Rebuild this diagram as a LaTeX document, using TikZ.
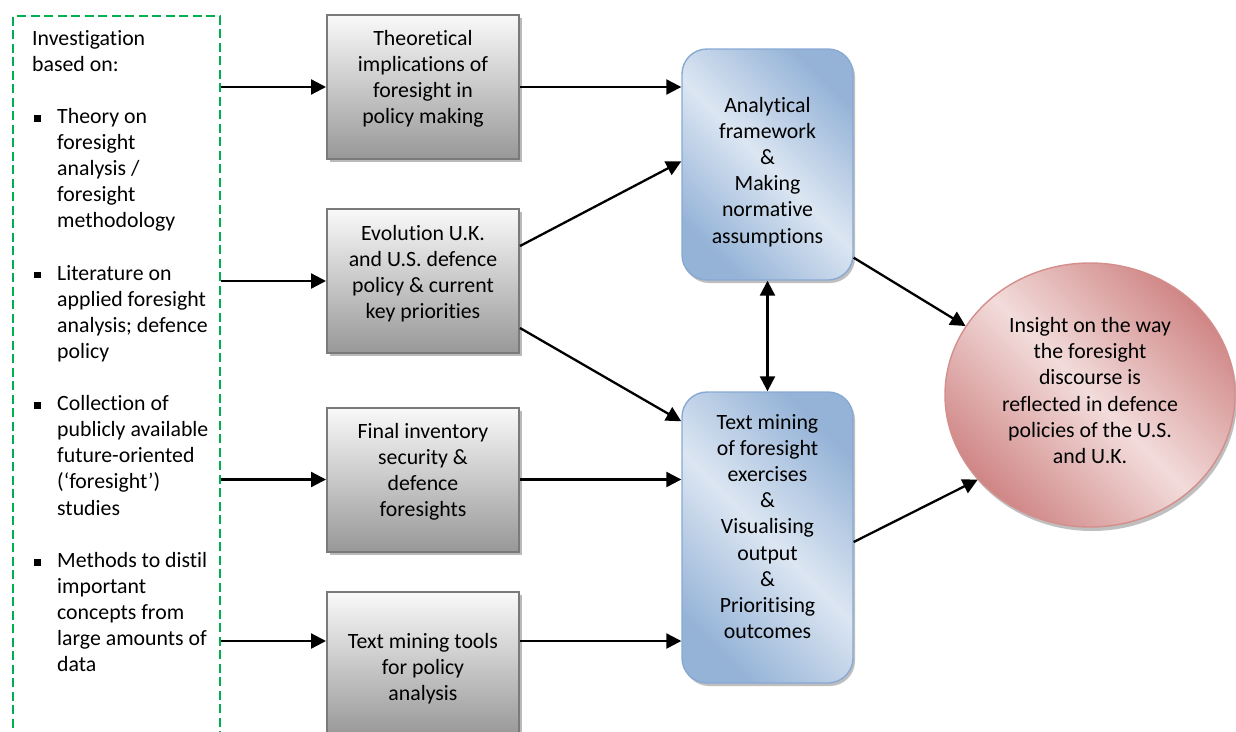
\documentclass[tikz,border=0pt]{standalone}
\usepackage{fontspec}
\setmainfont[Ligatures={NoCommon,NoContextual}]{Carlito}
\usetikzlibrary{arrows.meta,shapes.geometric,shadows}

\definecolor{frameGreen}{HTML}{00B050}
\definecolor{grayTop}{HTML}{F9F9F9}
\definecolor{grayBottom}{HTML}{989898}
\definecolor{grayEdge}{HTML}{7A7A7A}
\definecolor{blueDark}{HTML}{95B3D7}
\definecolor{blueLight}{HTML}{DCE6F2}
\definecolor{blueEdge}{HTML}{88A9D4}
\definecolor{redDark}{HTML}{CF8685}
\definecolor{redLight}{HTML}{F2DCDB}
\definecolor{redEdge}{HTML}{D48E8C}

\newcommand{\sqbullet}{\makebox[25pt][l]{\hspace{2pt}\raisebox{1.7pt}{\rule{6.5pt}{6.5pt}}}}
\newcommand{\contline}{\hspace*{25pt}}

\tikzset{
  txt/.style={font=\fontsize{21.8}{26.1}\selectfont, align=center, inner sep=0pt},
  dashframe/.style={draw=frameGreen, line width=2.3pt, dash pattern=on 9pt off 4.5pt,
    rectangle, inner sep=0pt, anchor=north west},
  graybox/.style={rectangle, draw=grayEdge, line width=2pt, inner sep=0pt,
    minimum width=192pt, minimum height=144pt,
    top color=grayTop, bottom color=grayBottom,
    drop shadow={shadow xshift=3pt, shadow yshift=-3pt, fill=black!45, opacity=0.6}},
  bluebox/.style={rectangle, rounded corners=25pt, draw=blueEdge, line width=1.4pt,
    inner sep=0pt, minimum width=171pt,
    top color=blueDark, bottom color=blueDark, middle color=blueLight, shading angle=-45,
    drop shadow={shadow xshift=2pt, shadow yshift=-3pt, fill=black!50, opacity=0.5}},
  outcome/.style={ellipse, draw=redEdge, line width=1.4pt, inner sep=0pt,
    minimum width=290pt, minimum height=264pt,
    top color=redDark, bottom color=redDark, middle color=redLight, shading angle=-45,
    drop shadow={shadow xshift=2pt, shadow yshift=-4pt, fill=black!50, opacity=0.5}},
  link/.style={line width=2.3pt, -{Triangle[length=15pt,width=15pt]}},
  link2/.style={line width=2.3pt, {Triangle[length=15pt,width=15pt]}-{Triangle[length=15pt,width=15pt]}}
}

\begin{document}
\begin{tikzpicture}[x=1pt, y=-1pt]
\clip (0,0) rectangle (1236,731);
\fill[white] (0,0) rectangle (1236,731);

% investigation frame, open at the bottom of the page
\node[dashframe, minimum width=207pt, minimum height=760pt] (inv) at (12,15) {};
\node[txt, align=left, anchor=north west] (invtext) at (32,29) {%
\rule{0pt}{16pt}Investigation\\
based on:\\[26.1pt]
\sqbullet Theory on\\
\contline foresight\\
\contline analysis /\\
\contline foresight\\
\contline methodology\\[26.1pt]
\sqbullet Literature on\\
\contline applied foresight\\
\contline analysis; defence\\
\contline policy\\[26.1pt]
\sqbullet Collection of\\
\contline publicly available\\
\contline future-oriented\\
\contline (‘foresight’)\\
\contline studies\\[26.1pt]
\sqbullet Methods to distil\\
\contline important\\
\contline concepts from\\
\contline large amounts of\\
\contline data};

% input boxes
\node[graybox] (g1) at (423,87) {};
\node[graybox] (g2) at (423,281) {};
\node[graybox] (g3) at (423,479.5) {};
\node[graybox] (g4) at (423,664) {};
\node[txt] (g1t) at (423,79) {Theoretical\\implications of\\foresight in\\policy making};
\node[txt] (g2t) at (423,274) {Evolution U.K.\\and U.S. defence\\policy \& current\\key priorities};
\node[txt] (g3t) at (423,472) {Final inventory\\security \&\\defence\\foresights};
\node[txt] (g4t) at (423,669) {Text mining tools\\for policy\\analysis};

% process boxes
\node[bluebox, minimum height=231pt] (b1) at (767.5,164.5) {};
\node[bluebox, minimum height=291pt] (b2) at (767.5,537.5) {};
\node[txt] (b1t) at (767.5,172) {Analytical\\framework\\\&\\Making\\normative\\assumptions};
\node[txt] (b2t) at (767.5,526.5) {Text mining\\of foresight\\exercises\\\&\\Visualising\\output\\\&\\Prioritising\\outcomes};

% outcome
\node[outcome] (res) at (1090,395) {};
\node[txt] (rest) at (1090,390.5) {Insight on the way\\the foresight\\discourse is\\reflected in defence\\policies of the U.S.\\and U.K.};

% connectors from the investigation frame
\draw[link] (inv.east |- g1.west) -- (g1.west);
\draw[link] (inv.east |- g2.west) -- (g2.west);
\draw[link] (inv.east |- g3.west) -- (g3.west);
\draw[link] (inv.east |- 0,641) -- ([yshift=23pt]g4.west);

% connectors into the process boxes
\draw[link] (g1.east) -- (g1.east -| b1.west);
\draw[link] ([yshift=-38pt]g2.north east) -- ([yshift=-113pt]b1.north west);
\draw[link] ([yshift=26pt]g2.south east) -- ([yshift=-30pt]b2.north west);
\draw[link] (g3.east) -- (g3.east -| b2.west);
\draw[link] ([yshift=23pt]g4.east) -- ([yshift=23pt]g4.east -| b2.west);
\draw[link2] (b1.south) -- (b2.north);

% connectors into the outcome
\draw[link] ([yshift=23pt]b1.south east) -- (res.151);
\draw[link] ([yshift=-4.5pt]b2.east) -- (res.217);
\end{tikzpicture}
\end{document}
